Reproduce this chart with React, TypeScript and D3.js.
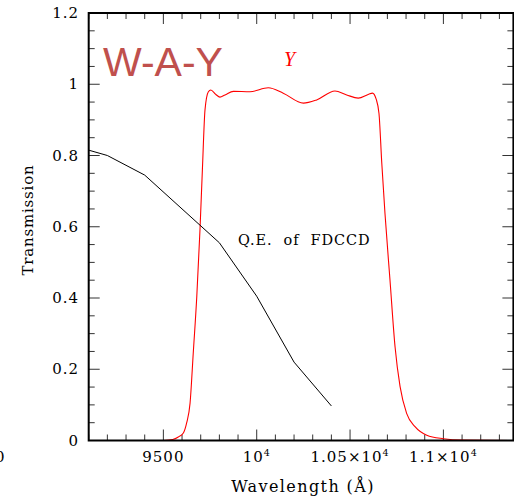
import React from "react";
import * as d3 from "d3";

const qeWave = [9100, 9200, 9400, 9800, 10000, 10200, 10400];
const qeValue = [0.815, 0.8, 0.745, 0.555, 0.405, 0.22, 0.097];

const filterWave = [9500, 9550, 9580, 9607, 9625, 9643, 9660, 9679, 9696, 9709, 9723, 9741, 9754, 9780, 9803, 9830, 9875, 9964, 10062, 10142, 10250, 10321, 10419, 10482, 10544, 10600, 10620, 10640, 10655, 10670, 10687, 10714, 10741, 10768, 10803, 10848, 10911, 11000, 11100, 11400];
const filterValue = [0, 0.003, 0.01, 0.021, 0.05, 0.105, 0.245, 0.404, 0.59, 0.76, 0.928, 0.979, 0.984, 0.972, 0.964, 0.97, 0.98, 0.979, 0.99, 0.975, 0.947, 0.956, 0.981, 0.97, 0.961, 0.972, 0.975, 0.958, 0.918, 0.778, 0.638, 0.45, 0.263, 0.151, 0.076, 0.039, 0.015, 0.005, 0.001, 0];

const xMajorTicks = [9500, 10000, 10500, 11000];
const xTickLabels: [string, string][] = [["9500", ""], ["10", "4"], ["1.05×10", "4"], ["1.1×10", "4"]];
const yMajorTicks = [0, 0.2, 0.4, 0.6, 0.8, 1, 1.2];
const yTickLabels = ["0", "0.2", "0.4", "0.6", "0.8", "1", "1.2"];

const W = 514, H = 501;
const L = 88.7, R = 513.4, T = 13, B = 440.5;

export default function App() {
  const x = d3.scaleLinear().domain([9100, 11375]).range([L, R]);
  const y = d3.scaleLinear().domain([0, 1.2]).range([B, T]);
  const xMinor = d3.range(9100, 11400, 100).filter((v) => v % 500 !== 0);
  const yMinor = d3.range(0, 1.2001, 0.05).filter((v) => Math.abs(v / 0.2 - Math.round(v / 0.2)) > 1e-6);
  const qeLine = d3.line<number>().x((_, i) => x(qeWave[i])).y((d) => y(d))(qeValue) || "";
  const fLine = d3.line<number>().x((_, i) => x(filterWave[i])).y((d) => y(d)).curve(d3.curveMonotoneX)(filterValue) || "";
  const font = "DejaVu Serif";
  const maj = 11, mnr = 6;
  return (
    <svg width={W} height={H} style={{ position: "absolute", left: 0, top: 0 }} fontFamily={font}>
      <rect x={0} y={0} width={W} height={H} fill="#fff" />
      <defs>
        <clipPath id="plot"><rect x={L} y={T} width={R - L} height={B - T} /></clipPath>
      </defs>
      <g stroke="#333" strokeWidth={1}>
        {xMajorTicks.map((v) => (
          <g key={"xm" + v}>
            <line x1={x(v)} x2={x(v)} y1={B} y2={B - maj} />
            <line x1={x(v)} x2={x(v)} y1={T} y2={T + maj} />
          </g>
        ))}
        {xMinor.map((v) => (
          <g key={"xn" + v}>
            <line x1={x(v)} x2={x(v)} y1={B} y2={B - mnr} />
            <line x1={x(v)} x2={x(v)} y1={T} y2={T + mnr} />
          </g>
        ))}
        {yMajorTicks.map((v) => (
          <g key={"ym" + v}>
            <line x1={L} x2={L + maj} y1={y(v)} y2={y(v)} />
            <line x1={R} x2={R - maj} y1={y(v)} y2={y(v)} />
          </g>
        ))}
        {yMinor.map((v) => (
          <g key={"yn" + v}>
            <line x1={L} x2={L + mnr} y1={y(v)} y2={y(v)} />
            <line x1={R} x2={R - mnr} y1={y(v)} y2={y(v)} />
          </g>
        ))}
      </g>
      <g clipPath="url(#plot)" fill="none">
        <path d={fLine} stroke="#ff0000" strokeWidth={1.1} />
        <path d={qeLine} stroke="#000" strokeWidth={1} />
      </g>
      <rect x={L} y={T} width={R - L} height={B - T} fill="none" stroke="#000" strokeWidth={2} />
      <g fontSize={15} fill="#000" letterSpacing={1}>
        {xMajorTicks.map((v, i) => (
          <text key={"xl" + v} x={x(v)} y={462} textAnchor="middle">
            {xTickLabels[i][0]}
            {xTickLabels[i][1] && <tspan fontSize={9.5} dy={-6}>{xTickLabels[i][1]}</tspan>}
          </text>
        ))}
        {yMajorTicks.map((v, i) => (
          <text key={"yl" + v} x={79} y={y(v) + 5} textAnchor="end">{yTickLabels[i]}</text>
        ))}
        <text x={-5} y={462}>0</text>
      </g>
      <text x={303} y={492} textAnchor="middle" fontSize={16} letterSpacing={1.4}>Wavelength (Å)</text>
      <text transform="translate(33,220) rotate(-90)" textAnchor="middle" fontSize={15} letterSpacing={0.8}>Transmission</text>
      <text x={238} y={245} fontSize={14.5} letterSpacing={0.9} xmlSpace="preserve" style={{ whiteSpace: "pre" }}>Q.E.  of  FDCCD</text>
      <text x={103} y={76} fontSize={41} fontFamily="Liberation Sans" fill="#c0504d">W-A-Y</text>
      <text x={284} y={66} fontSize={20} fontStyle="italic" fontFamily="Liberation Serif" fill="#ff0000">Y</text>
    </svg>
  );
}
